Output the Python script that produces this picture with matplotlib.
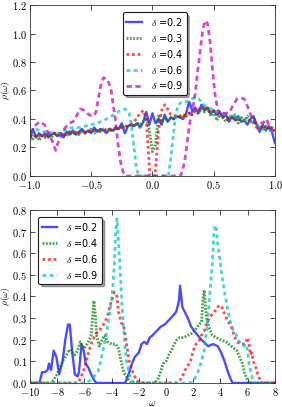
import numpy as np
import matplotlib
matplotlib.use("Agg")
import matplotlib.pyplot as plt
from matplotlib.ticker import FuncFormatter, MultipleLocator

# ---------------- top panel data ----------------
x_top = [-1.000, -0.975, -0.950, -0.925, -0.900, -0.875, -0.850, -0.825, -0.800, -0.775,
         -0.750, -0.725, -0.700, -0.675, -0.650, -0.625, -0.600, -0.575, -0.550, -0.525,
         -0.500, -0.475, -0.450, -0.425, -0.400, -0.375, -0.350, -0.325, -0.300, -0.275,
         -0.250, -0.225, -0.200, -0.175, -0.150, -0.125, -0.100, -0.075, -0.050, -0.025,
         0.000, 0.025, 0.050, 0.075, 0.100, 0.125, 0.150, 0.175, 0.200, 0.225,
         0.250, 0.275, 0.300, 0.325, 0.350, 0.375, 0.400, 0.425, 0.450, 0.475,
         0.500, 0.525, 0.550, 0.575, 0.600, 0.625, 0.650, 0.675, 0.700, 0.725,
         0.750, 0.775, 0.800, 0.825, 0.850, 0.875, 0.900, 0.925, 0.950, 0.975, 1.000]

top_d02 = [0.25, 0.33, 0.27, 0.30, 0.28, 0.30, 0.27, 0.29, 0.30, 0.28,
           0.30, 0.27, 0.31, 0.29, 0.32, 0.29, 0.31, 0.33, 0.30, 0.32,
           0.30, 0.34, 0.31, 0.33, 0.32, 0.30, 0.33, 0.32, 0.34, 0.33,
           0.37, 0.30, 0.35, 0.36, 0.35, 0.37, 0.34, 0.38, 0.45, 0.36,
           0.44, 0.37, 0.40, 0.36, 0.43, 0.38, 0.41, 0.40, 0.42, 0.41,
           0.40, 0.44, 0.52, 0.46, 0.48, 0.44, 0.50, 0.46, 0.48, 0.44,
           0.46, 0.43, 0.45, 0.41, 0.43, 0.38, 0.42, 0.39, 0.42, 0.38,
           0.39, 0.36, 0.40, 0.42, 0.36, 0.31, 0.36, 0.32, 0.35, 0.31, 0.23]

top_d03 = [0.28, 0.26, 0.29, 0.25, 0.28, 0.27, 0.29, 0.27, 0.30, 0.28,
           0.30, 0.29, 0.28, 0.31, 0.29, 0.31, 0.29, 0.32, 0.30, 0.31,
           0.33, 0.30, 0.32, 0.31, 0.33, 0.32, 0.33, 0.31, 0.34, 0.33,
           0.35, 0.34, 0.35, 0.36, 0.35, 0.37, 0.36, 0.38, 0.41, 0.32,
           0.17, 0.22, 0.43, 0.38, 0.40, 0.39, 0.41, 0.40, 0.42, 0.41,
           0.43, 0.42, 0.44, 0.43, 0.45, 0.44, 0.47, 0.45, 0.48, 0.42,
           0.45, 0.39, 0.43, 0.41, 0.38, 0.42, 0.40, 0.43, 0.37, 0.41,
           0.39, 0.42, 0.38, 0.41, 0.36, 0.34, 0.33, 0.35, 0.32, 0.34, 0.30]

x_top_d04 = [-1.000, -0.975, -0.950, -0.925, -0.900, -0.875, -0.850, -0.825, -0.800, -0.775,
             -0.750, -0.725, -0.700, -0.675, -0.650, -0.625, -0.600, -0.575, -0.550, -0.525,
             -0.500, -0.475, -0.450, -0.425, -0.400, -0.375, -0.350, -0.325, -0.300, -0.275,
             -0.250, -0.225, -0.200, -0.175, -0.150, -0.125, -0.100, -0.075, -0.050, -0.035,
             -0.020, 0.020, 0.035, 0.050, 0.075, 0.100, 0.125, 0.150, 0.175, 0.200,
             0.225, 0.250, 0.275, 0.300, 0.325, 0.350, 0.375, 0.400, 0.425, 0.450,
             0.475, 0.500, 0.525, 0.550, 0.575, 0.600, 0.625, 0.650, 0.675, 0.700,
             0.725, 0.750, 0.775, 0.800, 0.825, 0.850, 0.875, 0.900, 0.925, 0.950,
             0.975, 1.000]
top_d04 = [0.29, 0.27, 0.29, 0.28, 0.29, 0.28, 0.30, 0.29, 0.30, 0.29,
           0.30, 0.29, 0.30, 0.31, 0.30, 0.31, 0.30, 0.31, 0.31, 0.32,
           0.31, 0.32, 0.32, 0.32, 0.33, 0.32, 0.32, 0.33, 0.33, 0.33,
           0.34, 0.35, 0.35, 0.36, 0.38, 0.41, 0.44, 0.46, 0.40, 0.20,
           0.00, 0.00, 0.15, 0.32, 0.46, 0.50, 0.47, 0.43, 0.42, 0.43,
           0.42, 0.43, 0.42, 0.44, 0.45, 0.46, 0.47, 0.47, 0.48, 0.46,
           0.45, 0.46, 0.44, 0.43, 0.42, 0.41, 0.40, 0.41, 0.40, 0.40,
           0.39, 0.39, 0.38, 0.39, 0.38, 0.34, 0.33, 0.35, 0.34, 0.33,
           0.34, 0.32]

x_top_d06 = [-1.00, -0.95, -0.90, -0.85, -0.80, -0.75, -0.70, -0.65, -0.60, -0.55,
             -0.50, -0.45, -0.40, -0.35, -0.30, -0.26, -0.22, -0.19, -0.17, -0.15,
             -0.13, -0.11, 0.13, 0.15, 0.17, 0.19, 0.21, 0.24, 0.28, 0.32,
             0.35, 0.38, 0.42, 0.46, 0.50, 0.55, 0.60, 0.70, 0.80, 0.85,
             0.90, 1.00]
top_d06 = [0.30, 0.33, 0.31, 0.31, 0.30, 0.30, 0.33, 0.34, 0.34, 0.35,
           0.36, 0.37, 0.39, 0.41, 0.44, 0.46, 0.47, 0.44, 0.35, 0.20,
           0.05, 0.00, 0.00, 0.12, 0.28, 0.43, 0.50, 0.52, 0.52, 0.54,
           0.55, 0.54, 0.50, 0.48, 0.46, 0.44, 0.43, 0.41, 0.38, 0.36,
           0.33, 0.31]

x_top_d09 = [-1.00, -0.95, -0.92, -0.88, -0.85, -0.82, -0.79, -0.76, -0.72, -0.68,
             -0.65, -0.62, -0.59, -0.55, -0.52, -0.48, -0.46, -0.44, -0.42, -0.40,
             -0.37, -0.34, -0.32, -0.30, -0.28, -0.26, -0.24, -0.22, 0.23, 0.25,
             0.27, 0.29, 0.31, 0.33, 0.35, 0.37, 0.39, 0.41, 0.43, 0.45,
             0.47, 0.49, 0.51, 0.53, 0.55, 0.57, 0.60, 0.63, 0.66, 0.69,
             0.72, 0.75, 0.78, 0.81, 0.84, 0.87, 0.90, 0.93, 0.96, 1.00]
top_d09 = [0.30, 0.36, 0.38, 0.36, 0.30, 0.25, 0.18, 0.26, 0.33, 0.37,
           0.38, 0.42, 0.47, 0.46, 0.43, 0.42, 0.45, 0.55, 0.64, 0.69,
           0.68, 0.62, 0.50, 0.38, 0.22, 0.10, 0.03, 0.00, 0.00, 0.05,
           0.14, 0.28, 0.40, 0.48, 0.58, 0.74, 0.88, 1.02, 1.09, 1.07,
           0.95, 0.75, 0.58, 0.48, 0.43, 0.44, 0.44, 0.45, 0.50, 0.54,
           0.55, 0.54, 0.48, 0.41, 0.37, 0.38, 0.37, 0.40, 0.34, 0.31]

# ---------------- bottom panel data ----------------
x_bot_d02 = [-10.0, -9.3, -9.1, -8.9, -8.7, -8.6, -8.45, -8.25, -8.05, -7.85,
             -7.6, -7.4, -7.2, -7.07, -6.9, -6.7, -6.5, -6.4, -6.2, -6.05,
             -5.9, -5.7, -5.5, -5.25, -5.1, -3.0, -2.7, -2.5, -2.3, -2.0,
             -1.8, -1.6, -1.4, -1.2, -1.0, -0.7, -0.4, -0.1, 0.2, 0.5,
             0.75, 0.95, 1.03, 1.2, 1.37, 1.6, 1.85, 2.2, 2.47, 2.76,
             3.1, 3.45, 3.8, 4.05, 4.3, 4.55, 4.8, 4.9, 8.0]
bot_d02 = [0.00, 0.00, 0.05, 0.05, 0.06, 0.09, 0.06, 0.15, 0.12, 0.04,
           0.10, 0.20, 0.27, 0.27, 0.15, 0.04, 0.03, 0.05, 0.18, 0.15,
           0.09, 0.07, 0.04, 0.01, 0.00, 0.00, 0.05, 0.09, 0.12, 0.14,
           0.18, 0.19, 0.18, 0.21, 0.22, 0.24, 0.26, 0.27, 0.29, 0.31,
           0.33, 0.38, 0.45, 0.35, 0.33, 0.30, 0.26, 0.23, 0.21, 0.19,
           0.17, 0.18, 0.17, 0.14, 0.10, 0.05, 0.01, 0.00, 0.00]

x_bot_d04 = [-10.0, -8.4, -8.2, -8.0, -7.8, -7.6, -7.3, -7.1, -6.9, -6.7,
             -6.5, -6.3, -6.1, -5.9, -5.7, -5.5, -5.4, -5.3, -5.2, -5.1,
             -4.9, -4.7, -4.5, -4.3, -4.0, -3.7, -3.5, -3.3, -3.1, -2.9,
             -2.7, -2.5, -0.8, -0.6, -0.4, -0.2, 0.0, 0.2, 0.4, 0.6,
             0.8, 1.0, 1.3, 1.6, 1.9, 2.2, 2.4, 2.6, 2.7, 2.8,
             2.9, 3.0, 3.2, 3.4, 3.7, 4.0, 4.4, 4.8, 5.2, 5.4,
             5.6, 5.8, 6.0, 6.1, 8.0]
bot_d04 = [0.00, 0.00, 0.02, 0.04, 0.07, 0.10, 0.13, 0.155, 0.14, 0.13,
           0.15, 0.19, 0.16, 0.17, 0.19, 0.22, 0.30, 0.38, 0.32, 0.22,
           0.17, 0.20, 0.22, 0.19, 0.18, 0.18, 0.16, 0.10, 0.05, 0.03,
           0.01, 0.00, 0.00, 0.02, 0.05, 0.09, 0.10, 0.13, 0.15, 0.18,
           0.20, 0.21, 0.21, 0.22, 0.23, 0.25, 0.27, 0.28, 0.38, 0.43,
           0.35, 0.29, 0.25, 0.22, 0.21, 0.20, 0.19, 0.17, 0.15, 0.12,
           0.09, 0.04, 0.01, 0.00, 0.00]

x_bot_d06 = [-10.0, -6.5, -6.3, -6.1, -5.9, -5.7, -5.5, -5.3, -5.1, -4.8,
             -4.5, -4.3, -4.1, -3.9, -3.8, -3.6, -3.5, -3.3, -3.1, -2.9,
             -2.7, -2.5, -2.3, -2.1, -1.9, 0.8, 1.0, 1.2, 1.4, 1.6,
             1.8, 2.0, 2.2, 2.4, 2.6, 2.8, 3.0, 3.2, 3.4, 3.7,
             3.9, 4.1, 4.3, 4.5, 4.8, 5.0, 5.2, 5.5, 5.8, 6.0,
             6.1, 6.2, 6.3, 6.4, 6.6, 6.8, 7.0, 8.0]
bot_d06 = [0.00, 0.00, 0.02, 0.05, 0.09, 0.14, 0.18, 0.21, 0.23, 0.25,
           0.28, 0.31, 0.36, 0.40, 0.42, 0.40, 0.33, 0.28, 0.26, 0.18,
           0.10, 0.06, 0.03, 0.01, 0.00, 0.00, 0.01, 0.03, 0.06, 0.08,
           0.10, 0.15, 0.18, 0.19, 0.22, 0.24, 0.28, 0.30, 0.32, 0.34,
           0.36, 0.35, 0.32, 0.29, 0.26, 0.22, 0.19, 0.18, 0.18, 0.21,
           0.18, 0.13, 0.14, 0.10, 0.07, 0.03, 0.00, 0.00]

x_bot_d09 = [-10.0, -6.0, -5.6, -5.3, -5.0, -4.8, -4.6, -4.4, -4.2, -4.0,
             -3.9, -3.8, -3.7, -3.6, -3.5, -3.4, -3.3, -3.2, -3.1, -3.0,
             -2.9, -2.7, -2.5, -2.3, 1.8, 2.0, 2.2, 2.4, 2.6, 2.8,
             3.0, 3.2, 3.4, 3.5, 3.6, 3.7, 3.8, 3.9, 4.1, 4.3,
             4.5, 4.7, 4.9, 5.1, 5.4, 5.7, 5.9, 6.0, 6.1, 6.2,
             6.3, 6.5, 8.0]
bot_d09 = [0.00, 0.00, 0.01, 0.03, 0.05, 0.10, 0.16, 0.22, 0.30, 0.38,
           0.45, 0.55, 0.70, 0.76, 0.66, 0.55, 0.44, 0.33, 0.24, 0.16,
           0.10, 0.04, 0.01, 0.00, 0.00, 0.01, 0.03, 0.06, 0.10, 0.15,
           0.25, 0.40, 0.55, 0.68, 0.73, 0.71, 0.64, 0.60, 0.50, 0.42,
           0.35, 0.29, 0.25, 0.23, 0.19, 0.17, 0.18, 0.14, 0.09, 0.06,
           0.03, 0.00, 0.00]

top_labels = ["0.2", "0.3", "0.4", "0.6", "0.9"]
bot_labels = ["0.2", "0.4", "0.6", "0.9"]

# ---------------- styling ----------------
plt.rcParams['mathtext.fontset'] = 'cm'
plt.rcParams['font.family'] = ['DejaVu Sans']

styles = {
    'b': dict(color='b', linestyle='-', lw=1.7),
    'g': dict(color='g', linestyle=(0, (0.7, 0.5)), lw=2.0),
    'r': dict(color='r', linestyle=(0, (1.0, 1.0)), lw=2.0),
    'c': dict(color='c', linestyle=(0, (1.4, 1.2)), lw=2.0),
    'm': dict(color='m', linestyle=(0, (1.9, 1.3)), lw=2.0),
}
ALPHA = 0.7
TICK_FS = 7.5
LEG_FS = 7

fig = plt.figure(figsize=(2.82, 4.07), dpi=100)
ax1 = fig.add_axes([0.106, 0.5676, 0.869, 0.4201])
ax2 = fig.add_axes([0.106, 0.059, 0.869, 0.425])

fmt1 = FuncFormatter(lambda v, p: r'$%.1f$' % v if abs(v) > 1e-9 else r'$0.0$')
fmt2 = FuncFormatter(lambda v, p: r'$%d$' % round(v))

ax1.plot(x_top, top_d02, alpha=ALPHA, label=r'$\delta$ =' + top_labels[0], **styles['b'])
ax1.plot(x_top, top_d03, alpha=ALPHA, label=r'$\delta$ =' + top_labels[1], **styles['g'])
ax1.plot(x_top_d04, top_d04, alpha=ALPHA, label=r'$\delta$ =' + top_labels[2], **styles['r'])
ax1.plot(x_top_d06, top_d06, alpha=ALPHA, label=r'$\delta$ =' + top_labels[3], **styles['c'])
ax1.plot(x_top_d09, top_d09, alpha=ALPHA, label=r'$\delta$ =' + top_labels[4], **styles['m'])
ax1.set_xlim(-1, 1)
ax1.set_ylim(0, 1.2)
ax1.xaxis.set_major_locator(MultipleLocator(0.5))
ax1.yaxis.set_major_locator(MultipleLocator(0.2))
ax1.xaxis.set_major_formatter(fmt1)
ax1.yaxis.set_major_formatter(fmt1)
ax1.set_ylabel(r'$\rho(\omega)$', fontsize=7)
ax1.yaxis.set_label_coords(-0.074, 0.5)

ax2.plot(x_bot_d02, bot_d02, alpha=ALPHA, label=r'$\delta$ =' + bot_labels[0], **styles['b'])
ax2.plot(x_bot_d04, bot_d04, alpha=ALPHA, label=r'$\delta$ =' + bot_labels[1], **styles['g'])
ax2.plot(x_bot_d06, bot_d06, alpha=ALPHA, label=r'$\delta$ =' + bot_labels[2], **styles['r'])
ax2.plot(x_bot_d09, bot_d09, alpha=ALPHA, label=r'$\delta$ =' + bot_labels[3], **styles['c'])
ax2.set_xlim(-10, 8)
ax2.set_ylim(0, 0.8)
ax2.xaxis.set_major_locator(MultipleLocator(2))
ax2.yaxis.set_major_locator(MultipleLocator(0.1))
ax2.xaxis.set_major_formatter(fmt2)
ax2.yaxis.set_major_formatter(fmt1)
ax2.set_ylabel(r'$\rho(\omega)$', fontsize=7)
ax2.yaxis.set_label_coords(-0.074, 0.5)
ax2.set_xlabel(r'$\omega$', fontsize=7.5, labelpad=0)

for ax in (ax1, ax2):
    ax.tick_params(direction='in', top=True, right=True, labelsize=TICK_FS,
                   length=3.5, width=0.5, pad=2, colors='0.0')
    for s in ax.spines.values():
        s.set_linewidth(0.6)
        s.set_color('0.2')

leg1 = ax1.legend(loc='upper left', bbox_to_anchor=(0.36, 0.985), fontsize=LEG_FS,
                  fancybox=True, shadow=True, handlelength=1.6, labelspacing=0.4,
                  borderpad=0.35, handletextpad=0.9, framealpha=1.0)
leg2 = ax2.legend(loc='upper left', bbox_to_anchor=(0.015, 0.985), fontsize=LEG_FS,
                  fancybox=True, shadow=True, handlelength=1.6, labelspacing=0.4,
                  borderpad=0.35, handletextpad=0.9, framealpha=1.0)
for leg in (leg1, leg2):
    leg.get_frame().set_edgecolor('0.1')
    leg.get_frame().set_linewidth(0.8)

fig.savefig('out.png', dpi=100)
